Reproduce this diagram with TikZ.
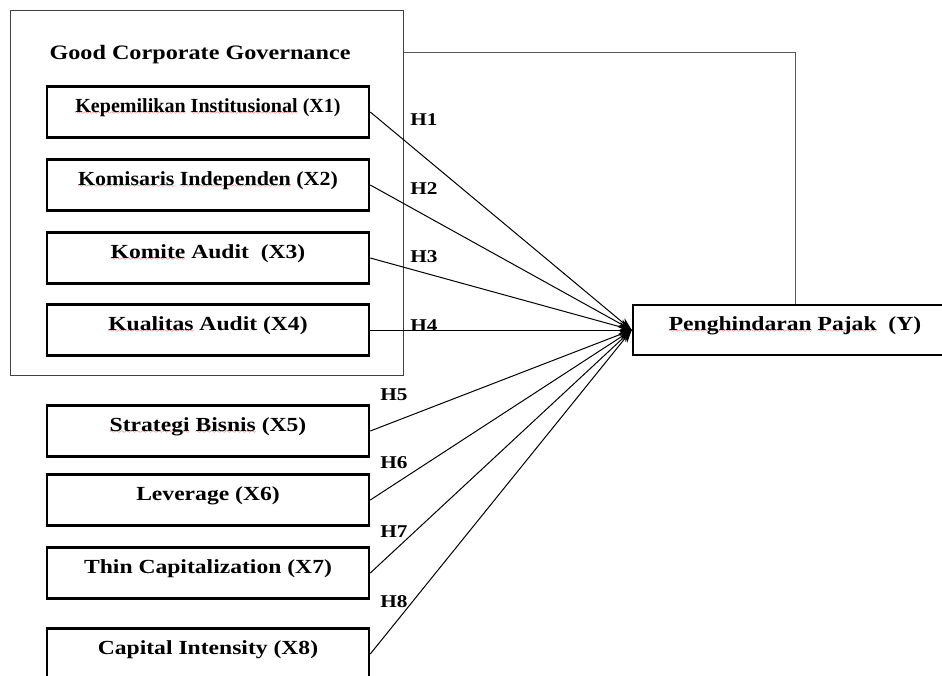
\documentclass[tikz,border=0pt]{standalone}
\usepackage{fontspec}
\setmainfont{Liberation Serif}[FakeStretch=1.18]
\usepackage{xcolor}
\usetikzlibrary{arrows.meta}
% garis bergelombang merah di bawah kata
\font\sixly=lasy6
\newcommand\salah[1]{\setbox0\hbox{#1}\rlap{\lower2.5pt\hbox to\wd0{\color{red!85!black}\xleaders\hbox{\sixly\char58}\hfil}}\box0\relax}

\begin{document}
\begin{tikzpicture}[x=1pt,y=-1pt,
  varbox/.style={draw,line width=2.5pt,minimum width=322pt,minimum height=51pt,
    text height=10pt,text depth=10pt,inner sep=0pt,font=\fontsize{20}{24}\selectfont\bfseries},
  hyp/.style={inner sep=0pt,font=\fontsize{18}{22}\selectfont\bfseries},
  panah/.style={-{Stealth[length=13pt,width=9pt]},line width=1pt}]
\clip(0,0)rectangle(942,675);

%kotak GCG
\node[draw=black!75,line width=1pt,minimum width=393pt,minimum height=365pt,inner sep=0pt](gcg)at(206.5,192.5){};
\node[inner sep=0pt,font=\fontsize{20.5}{24}\selectfont\bfseries,anchor=base](judul)at(200,59){Good Corporate Governance};

%variabel X1-X4
\node[varbox](x1)at(208,112){\scalebox{0.85}[1]{\salah{Kepemilikan} \salah{Institusional} (X1)}};
\node[varbox](x2)at(208,185){\scalebox{0.93}[1]{\salah{Komisaris} \salah{Independen} (X2)}};
\node[varbox](x3)at(208,258){\salah{Komite} Audit \ (X3)};
\node[varbox](x4)at(208,330){\salah{Kualitas} Audit (X4)};

%variabel X5-X8
\node[varbox](x5)at(208,431){\salah{Strategi} \salah{Bisnis} (X5)};
\node[varbox](x6)at(208,500){Leverage (X6)};
\node[varbox](x7)at(208,573){Thin Capitalization (X7)};
\node[varbox](x8)at(208,654){Capital Intensity (X8)};

%variabel Y
\node[varbox,minimum width=324pt,minimum height=50pt](y)at(795,330){\salah{Penghindaran} \salah{Pajak} \ (Y)};

%garis GCG ke Y
\draw[line width=1pt,black!65](gcg.east|-0,52)-|(y.north);

%panah hipotesis
\foreach \i in {1,...,8}
  \draw[panah](x\i.east)to(y.west);

%label H
\node[hyp](h1)at(424,120){H1};
\node[hyp](h2)at(424,189){H2};
\node[hyp](h3)at(424,257){H3};
\node[hyp](h4)at(424,326){H4};
\node[hyp](h5)at(394,395){H5};
\node[hyp](h6)at(394,463){H6};
\node[hyp](h7)at(394,532){H7};
\node[hyp](h8)at(394,602){H8};
\end{tikzpicture}
\end{document}
